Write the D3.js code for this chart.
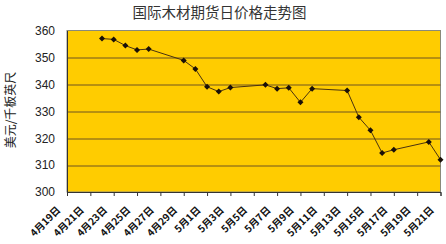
<!DOCTYPE html>
<html>
<head>
<meta charset="utf-8">
<script src="https://cdn.jsdelivr.net/npm/d3@7"></script>
<style>
  body { margin: 0; background: #fff; }
  svg { display: block; }
</style>
</head>
<body>
<div id="chart"></div>
<script>
// trading days and daily price (USD per thousand board feet)
const dates = [
  "2013-04-22", "2013-04-23", "2013-04-24", "2013-04-25", "2013-04-26",
  "2013-04-29", "2013-04-30", "2013-05-01", "2013-05-02", "2013-05-03",
  "2013-05-06", "2013-05-07", "2013-05-08", "2013-05-09", "2013-05-10",
  "2013-05-13", "2013-05-14", "2013-05-15", "2013-05-16", "2013-05-17",
  "2013-05-20", "2013-05-21"
];
const prices = [
  357.0, 356.7, 354.4, 352.8, 353.1,
  348.9, 345.7, 339.1, 337.3, 338.8,
  339.8, 338.4, 338.7, 333.3, 338.4,
  337.7, 327.8, 322.9, 314.5, 315.7,
  318.6, 312.0
];
const tickDates = [
  "2013-04-19", "2013-04-21", "2013-04-23", "2013-04-25", "2013-04-27",
  "2013-04-29", "2013-05-01", "2013-05-03", "2013-05-05", "2013-05-07",
  "2013-05-09", "2013-05-11", "2013-05-13", "2013-05-15", "2013-05-17",
  "2013-05-19", "2013-05-21"
];
const tickLabels = [
  "4月19日", "4月21日", "4月23日", "4月25日", "4月27日",
  "4月29日", "5月1日", "5月3日", "5月5日", "5月7日",
  "5月9日", "5月11日", "5月13日", "5月15日", "5月17日",
  "5月19日", "5月21日"
];
const yTicks = [300, 310, 320, 330, 340, 350, 360];

const W = 446, H = 244;
const margin = { top: 30.5, right: 5.5, bottom: 52, left: 67 };
const width = W - margin.left - margin.right,
  height = H - margin.top - margin.bottom;

const parse = d3.utcParse("%Y-%m-%d");
const data = dates.map((d, i) => ({ date: parse(d), value: prices[i] }));

const svg = d3.select("#chart").append("svg")
  .attr("width", W).attr("height", H);

// title
svg.append("text")
  .attr("x", 219.5).attr("y", 18)
  .attr("text-anchor", "middle")
  .style("font-family", "'Noto Sans CJK SC', sans-serif")
  .style("font-size", "14.5px")
  .style("fill", "#333")
  .text("国际木材期货日价格走势图");

const g = svg.append("g")
  .attr("transform", `translate(${margin.left},${margin.top})`);

const x = d3.scaleUtc()
  .domain([parse(tickDates[0]), parse(tickDates[tickDates.length - 1])])
  .range([0, width]);
const y = d3.scaleLinear().domain([300, 360]).range([height, 0]);

// plot area
g.append("rect")
  .attr("width", width).attr("height", height)
  .attr("fill", "#FFCC00")
  .attr("stroke", "#8a8a7a").attr("stroke-width", 1);

// gridlines
g.selectAll(".grid")
  .data(yTicks.slice(1, -1))
  .enter().append("line")
  .attr("x1", 0).attr("x2", width)
  .attr("y1", d => Math.round(y(d)) + 0.5)
  .attr("y2", d => Math.round(y(d)) + 0.5)
  .attr("stroke", "#6e5520").attr("stroke-width", 1);

// y axis
const yAxis = d3.axisLeft(y).tickValues(yTicks).tickSize(0).tickPadding(12);
g.append("g").call(yAxis)
  .call(s => s.select(".domain").attr("stroke", "#333"))
  .call(s => s.selectAll("text")
    .style("font-family", "'Liberation Sans', Arial, sans-serif")
    .style("font-size", "12px")
    .style("fill", "#222"));

// x axis
const xAxis = d3.axisBottom(x)
  .tickValues(tickDates.map(parse))
  .tickSize(4)
  .tickFormat((d, i) => tickLabels[i]);
const xg = g.append("g")
  .attr("transform", `translate(0,${height})`)
  .call(xAxis);
xg.select(".domain").attr("stroke", "#333");
xg.selectAll("line").attr("stroke", "#333");
xg.selectAll("text")
  .attr("text-anchor", "end")
  .attr("transform", "translate(-12,13) rotate(-45)")
  .attr("y", 8).attr("dy", 0)
  .style("font-family", "'Noto Sans CJK SC', sans-serif")
  .style("font-size", "10px")
  .style("font-weight", "bold")
  .style("fill", "#111");

// y axis title
svg.append("text")
  .attr("transform", "translate(15,110) rotate(-90)")
  .attr("text-anchor", "middle")
  .style("font-family", "'Noto Sans CJK SC', sans-serif")
  .style("font-size", "12px")
  .style("fill", "#222")
  .text("美元/千板英尺");

// line
const line = d3.line().x(d => x(d.date)).y(d => y(d.value));
g.append("path")
  .datum(data)
  .attr("d", line)
  .attr("fill", "none")
  .attr("stroke", "#4a3210")
  .attr("stroke-width", 1);

// diamond markers
g.selectAll(".pt")
  .data(data)
  .enter().append("path")
  .attr("class", "pt")
  .attr("d", d3.symbol().type(d3.symbolSquare).size(18))
  .attr("transform", d => `translate(${x(d.date)},${y(d.value)}) rotate(45)`)
  .attr("fill", "#1a1008");
</script>
</body>
</html>
